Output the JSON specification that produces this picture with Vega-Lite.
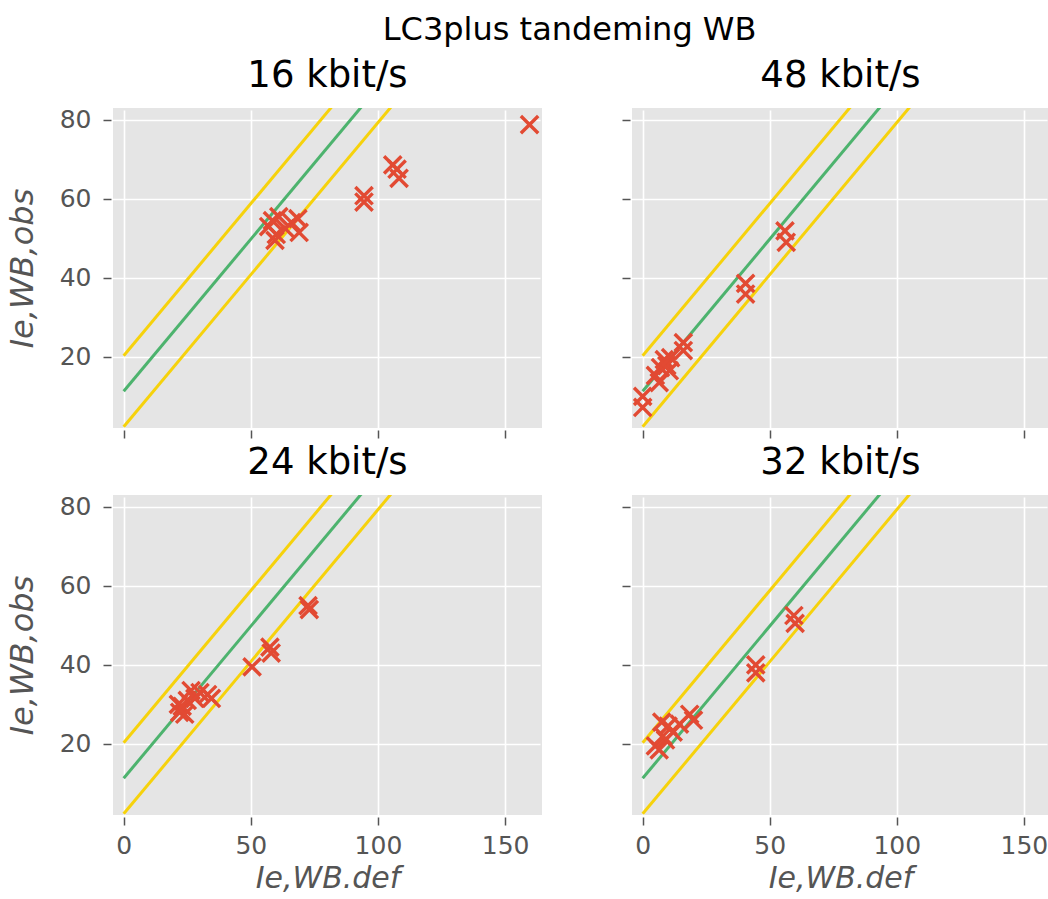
{
  "$schema": "https://vega.github.io/schema/vega-lite/v6.json",
  "padding": {"left": 6, "top": 13, "right": 0, "bottom": 0},
  "background": "white",
  "title": {
    "text": "LC3plus tandeming WB",
    "fontSize": 32,
    "font": "DejaVu Sans",
    "fontWeight": "normal",
    "color": "#000000",
    "anchor": "middle",
    "dx": 42,
    "offset": 10
  },
  "datasets": {
    "lines": [
      {"kind": "upper", "x": 0, "y": 20.3},
      {"kind": "upper", "x": 110, "y": 105.0},
      {"kind": "mid", "x": 0, "y": 11.3},
      {"kind": "mid", "x": 110, "y": 96.0},
      {"kind": "lower", "x": 0, "y": 2.3},
      {"kind": "lower", "x": 110, "y": 87.0}
    ],
    "points": [
      {"rate": "16 kbit/s", "x": 57, "y": 53},
      {"rate": "16 kbit/s", "x": 58.5, "y": 54.5},
      {"rate": "16 kbit/s", "x": 61, "y": 55.5},
      {"rate": "16 kbit/s", "x": 60, "y": 51},
      {"rate": "16 kbit/s", "x": 59.5, "y": 49.5},
      {"rate": "16 kbit/s", "x": 63.5, "y": 52.5},
      {"rate": "16 kbit/s", "x": 66, "y": 54},
      {"rate": "16 kbit/s", "x": 68.5, "y": 55},
      {"rate": "16 kbit/s", "x": 69, "y": 51.5},
      {"rate": "16 kbit/s", "x": 94.5, "y": 60.8},
      {"rate": "16 kbit/s", "x": 94.5, "y": 59.2},
      {"rate": "16 kbit/s", "x": 105.8, "y": 68.6},
      {"rate": "16 kbit/s", "x": 107.5, "y": 67.5},
      {"rate": "16 kbit/s", "x": 108.3, "y": 65.2},
      {"rate": "16 kbit/s", "x": 159.6, "y": 78.8},
      {"rate": "48 kbit/s", "x": 0, "y": 10},
      {"rate": "48 kbit/s", "x": 0, "y": 7.2},
      {"rate": "48 kbit/s", "x": 5, "y": 15.3},
      {"rate": "48 kbit/s", "x": 6.5, "y": 13.5},
      {"rate": "48 kbit/s", "x": 7, "y": 17.3},
      {"rate": "48 kbit/s", "x": 8.5, "y": 19.3},
      {"rate": "48 kbit/s", "x": 9.5, "y": 17.8},
      {"rate": "48 kbit/s", "x": 10.5, "y": 16.5},
      {"rate": "48 kbit/s", "x": 11, "y": 19.8},
      {"rate": "48 kbit/s", "x": 16, "y": 23.6},
      {"rate": "48 kbit/s", "x": 16, "y": 21.6},
      {"rate": "48 kbit/s", "x": 40.5, "y": 38.6},
      {"rate": "48 kbit/s", "x": 40.5, "y": 35.9},
      {"rate": "48 kbit/s", "x": 56, "y": 51.9},
      {"rate": "48 kbit/s", "x": 56.5, "y": 49},
      {"rate": "24 kbit/s", "x": 21.5, "y": 30},
      {"rate": "24 kbit/s", "x": 22, "y": 28},
      {"rate": "24 kbit/s", "x": 23, "y": 29.5},
      {"rate": "24 kbit/s", "x": 24, "y": 27.5},
      {"rate": "24 kbit/s", "x": 25, "y": 31},
      {"rate": "24 kbit/s", "x": 26.5, "y": 33.5},
      {"rate": "24 kbit/s", "x": 28, "y": 31.5},
      {"rate": "24 kbit/s", "x": 30, "y": 33},
      {"rate": "24 kbit/s", "x": 33, "y": 32.5},
      {"rate": "24 kbit/s", "x": 34.5, "y": 31.5},
      {"rate": "24 kbit/s", "x": 50.5, "y": 39.5},
      {"rate": "24 kbit/s", "x": 57.5, "y": 44.5},
      {"rate": "24 kbit/s", "x": 58, "y": 43},
      {"rate": "24 kbit/s", "x": 72.5, "y": 55},
      {"rate": "24 kbit/s", "x": 73, "y": 54},
      {"rate": "32 kbit/s", "x": 5, "y": 19.5},
      {"rate": "32 kbit/s", "x": 6.5, "y": 18.5},
      {"rate": "32 kbit/s", "x": 7.5, "y": 25.5},
      {"rate": "32 kbit/s", "x": 8, "y": 22},
      {"rate": "32 kbit/s", "x": 9, "y": 21},
      {"rate": "32 kbit/s", "x": 10, "y": 24.5},
      {"rate": "32 kbit/s", "x": 12, "y": 23},
      {"rate": "32 kbit/s", "x": 14.5, "y": 25},
      {"rate": "32 kbit/s", "x": 18.5, "y": 27.5},
      {"rate": "32 kbit/s", "x": 20, "y": 26},
      {"rate": "32 kbit/s", "x": 44.5, "y": 40},
      {"rate": "32 kbit/s", "x": 44.5, "y": 38},
      {"rate": "32 kbit/s", "x": 59.5, "y": 52.5},
      {"rate": "32 kbit/s", "x": 60, "y": 50.5}
    ]
  },
  "columns": 2,
  "bounds": "flush",
  "spacing": {"row": 67, "column": 90},
  "concat": [
    {
      "title": "16 kbit/s",
      "width": 429,
      "height": 320,
      "layer": [
        {
          "data": {"name": "lines"},
          "mark": {"type": "line", "clip": true, "strokeWidth": 3},
          "encoding": {
            "x": {"field": "x", "type": "quantitative", "scale": {"domain": [-4.2, 164.5], "nice": false, "zero": false}, "axis": {"values": [0, 50, 100, 150], "labels": false, "title": null}},
            "y": {"field": "y", "type": "quantitative", "scale": {"domain": [2, 83], "nice": false, "zero": false}, "axis": {"values": [20, 40, 60, 80], "title": "Ie,WB,obs"}},
            "color": {"field": "kind", "type": "nominal", "scale": {"domain": ["upper", "mid", "lower"], "range": ["#F6D20C", "#4DB36E", "#F6D20C"]}, "legend": null},
            "detail": {"field": "kind"}
          }
        },
        {
          "data": {"name": "points"},
          "transform": [{"filter": "datum.rate === '16 kbit/s'"}],
          "mark": {"type": "point", "shape": "M-1,-1L1,1M-1,1L1,-1", "filled": false, "size": 300, "strokeWidth": 3.4, "color": "#E24A33", "opacity": 1, "clip": true},
          "encoding": {
            "x": {"field": "x", "type": "quantitative"},
            "y": {"field": "y", "type": "quantitative"}
          }
        }
      ]
    },
    {
      "title": "48 kbit/s",
      "width": 417,
      "height": 320,
      "layer": [
        {
          "data": {"name": "lines"},
          "mark": {"type": "line", "clip": true, "strokeWidth": 3},
          "encoding": {
            "x": {"field": "x", "type": "quantitative", "scale": {"domain": [-4.2, 159.9], "nice": false, "zero": false}, "axis": {"values": [0, 50, 100, 150], "labels": false, "title": null}},
            "y": {"field": "y", "type": "quantitative", "scale": {"domain": [2, 83], "nice": false, "zero": false}, "axis": {"values": [20, 40, 60, 80], "labels": false, "title": null}},
            "color": {"field": "kind", "type": "nominal", "scale": {"domain": ["upper", "mid", "lower"], "range": ["#F6D20C", "#4DB36E", "#F6D20C"]}, "legend": null},
            "detail": {"field": "kind"}
          }
        },
        {
          "data": {"name": "points"},
          "transform": [{"filter": "datum.rate === '48 kbit/s'"}],
          "mark": {"type": "point", "shape": "M-1,-1L1,1M-1,1L1,-1", "filled": false, "size": 300, "strokeWidth": 3.4, "color": "#E24A33", "opacity": 1, "clip": true},
          "encoding": {
            "x": {"field": "x", "type": "quantitative"},
            "y": {"field": "y", "type": "quantitative"}
          }
        }
      ]
    },
    {
      "title": "24 kbit/s",
      "width": 429,
      "height": 320,
      "layer": [
        {
          "data": {"name": "lines"},
          "mark": {"type": "line", "clip": true, "strokeWidth": 3},
          "encoding": {
            "x": {"field": "x", "type": "quantitative", "scale": {"domain": [-4.2, 164.5], "nice": false, "zero": false}, "axis": {"values": [0, 50, 100, 150], "title": "Ie,WB.def"}},
            "y": {"field": "y", "type": "quantitative", "scale": {"domain": [2, 83], "nice": false, "zero": false}, "axis": {"values": [20, 40, 60, 80], "title": "Ie,WB,obs"}},
            "color": {"field": "kind", "type": "nominal", "scale": {"domain": ["upper", "mid", "lower"], "range": ["#F6D20C", "#4DB36E", "#F6D20C"]}, "legend": null},
            "detail": {"field": "kind"}
          }
        },
        {
          "data": {"name": "points"},
          "transform": [{"filter": "datum.rate === '24 kbit/s'"}],
          "mark": {"type": "point", "shape": "M-1,-1L1,1M-1,1L1,-1", "filled": false, "size": 300, "strokeWidth": 3.4, "color": "#E24A33", "opacity": 1, "clip": true},
          "encoding": {
            "x": {"field": "x", "type": "quantitative"},
            "y": {"field": "y", "type": "quantitative"}
          }
        }
      ]
    },
    {
      "title": "32 kbit/s",
      "width": 417,
      "height": 320,
      "layer": [
        {
          "data": {"name": "lines"},
          "mark": {"type": "line", "clip": true, "strokeWidth": 3},
          "encoding": {
            "x": {"field": "x", "type": "quantitative", "scale": {"domain": [-4.2, 159.9], "nice": false, "zero": false}, "axis": {"values": [0, 50, 100, 150], "title": "Ie,WB.def"}},
            "y": {"field": "y", "type": "quantitative", "scale": {"domain": [2, 83], "nice": false, "zero": false}, "axis": {"values": [20, 40, 60, 80], "labels": false, "title": null}},
            "color": {"field": "kind", "type": "nominal", "scale": {"domain": ["upper", "mid", "lower"], "range": ["#F6D20C", "#4DB36E", "#F6D20C"]}, "legend": null},
            "detail": {"field": "kind"}
          }
        },
        {
          "data": {"name": "points"},
          "transform": [{"filter": "datum.rate === '32 kbit/s'"}],
          "mark": {"type": "point", "shape": "M-1,-1L1,1M-1,1L1,-1", "filled": false, "size": 300, "strokeWidth": 3.4, "color": "#E24A33", "opacity": 1, "clip": true},
          "encoding": {
            "x": {"field": "x", "type": "quantitative"},
            "y": {"field": "y", "type": "quantitative"}
          }
        }
      ]
    }
  ],
  "config": {
    "font": "DejaVu Sans",
    "view": {"fill": "#E5E5E5", "stroke": null},
    "axis": {
      "domain": false,
      "grid": true,
      "gridColor": "#FFFFFF",
      "gridWidth": 1.6,
      "gridOpacity": 1,
      "ticks": true,
      "tickColor": "#555555",
      "tickSize": 8,
      "tickWidth": 1.5,
      "offset": 2,
      "labelColor": "#555555",
      "labelFont": "DejaVu Sans",
      "labelFontSize": 25,
      "titleColor": "#555555",
      "titleFont": "DejaVu Sans",
      "titleFontSize": 32,
      "titleFontStyle": "italic",
      "titleFontWeight": "normal"
    },
    "axisX": {"titlePadding": 5, "labelPadding": 8, "titleFontSize": 30},
    "axisY": {"titlePadding": 20, "labelPadding": 12},
    "title": {
      "font": "DejaVu Sans",
      "fontSize": 37,
      "fontWeight": "normal",
      "color": "#000000",
      "offset": 13
    }
  }
}
